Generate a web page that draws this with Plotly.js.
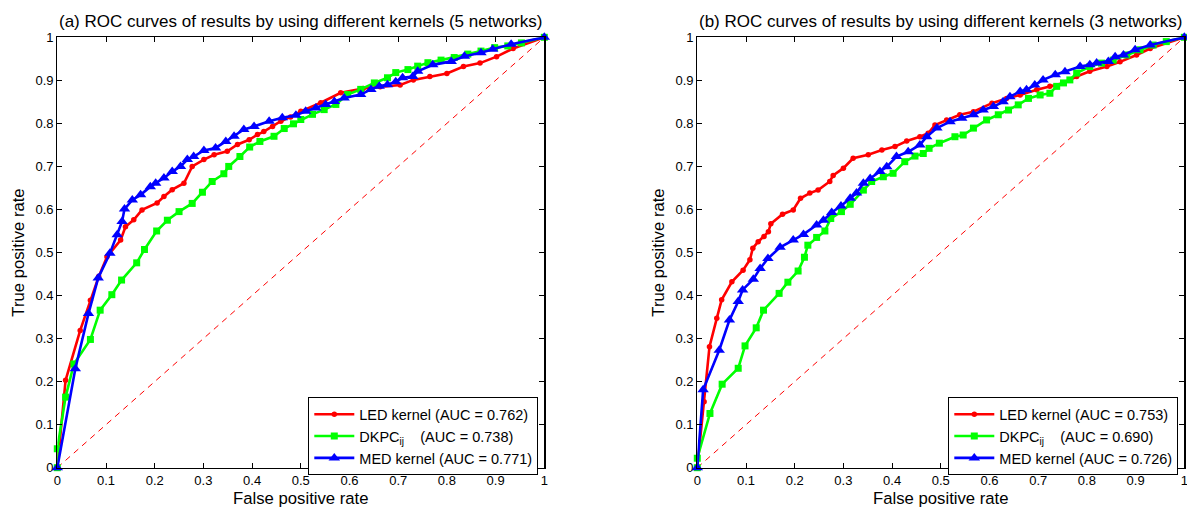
<!DOCTYPE html>
<html>
<head>
<meta charset="utf-8">
<script src="https://cdn.plot.ly/plotly-3.0.1.min.js"></script>
<style>html,body{margin:0;padding:0;background:#fff;}#chart{width:1187px;height:508px;}</style>
</head>
<body>
<div id="chart"></div>
<script>
// ---- Data ----
var titleA = "(a) ROC curves of results by using different kernels (5 networks)";
var titleB = "(b) ROC curves of results by using different kernels (3 networks)";
var seriesNames = ["LED kernel", "DKPC<sub>ij</sub>\u00a0\u00a0\u00a0", "MED kernel"];
var aucA = [0.762, 0.738, 0.771];
var aucB = [0.753, 0.690, 0.726];
var tickVals = [0,0.1,0.2,0.3,0.4,0.5,0.6,0.7,0.8,0.9,1];
var tickText = ["0","0.1","0.2","0.3","0.4","0.5","0.6","0.7","0.8","0.9","1"];
var diagX = [0, 1];
var diagY = [0, 1];

// (a) 5 networks
var ledFprA = [0,0.017,0.047,0.068,0.085,0.102,0.130,0.140,0.157,0.174,0.205,0.219,0.236,0.260,0.277,0.301,0.322,0.349,0.370,0.394,0.411,0.424,0.442,0.459,0.479,0.500,0.541,0.582,0.628,0.663,0.704,0.731,0.765,0.800,0.834,0.868,0.902,0.936,1];
var ledTprA = [0,0.203,0.319,0.389,0.444,0.490,0.529,0.560,0.576,0.599,0.615,0.630,0.646,0.661,0.700,0.716,0.727,0.735,0.751,0.762,0.774,0.781,0.793,0.805,0.815,0.828,0.848,0.871,0.881,0.885,0.889,0.901,0.909,0.916,0.932,0.940,0.955,0.974,1];
var dkpcFprA = [0,0,0.017,0.034,0.068,0.088,0.112,0.132,0.163,0.179,0.204,0.226,0.250,0.277,0.298,0.318,0.342,0.352,0.375,0.395,0.416,0.445,0.466,0.485,0.500,0.524,0.548,0.572,0.596,0.623,0.651,0.678,0.695,0.720,0.740,0.761,0.788,0.815,0.843,0.870,0.898,0.925,0.953,1];
var dkpcTprA = [0,0.044,0.164,0.241,0.298,0.366,0.402,0.436,0.476,0.507,0.550,0.575,0.595,0.614,0.640,0.665,0.683,0.700,0.723,0.745,0.758,0.770,0.788,0.799,0.809,0.821,0.832,0.844,0.867,0.879,0.894,0.906,0.918,0.925,0.933,0.941,0.947,0.953,0.961,0.968,0.976,0.980,0.987,1];
var medFprA = [0,0.037,0.064,0.084,0.108,0.123,0.133,0.138,0.154,0.171,0.191,0.202,0.219,0.236,0.253,0.267,0.280,0.301,0.325,0.346,0.363,0.383,0.404,0.435,0.462,0.490,0.510,0.531,0.551,0.569,0.589,0.623,0.644,0.661,0.678,0.695,0.709,0.730,0.740,0.771,0.809,0.836,0.870,0.894,0.932,1];
var medTprA = [0,0.230,0.358,0.441,0.498,0.541,0.572,0.601,0.622,0.634,0.653,0.661,0.673,0.688,0.700,0.716,0.723,0.737,0.743,0.758,0.770,0.786,0.793,0.805,0.813,0.819,0.828,0.836,0.844,0.851,0.859,0.867,0.879,0.886,0.890,0.897,0.906,0.909,0.921,0.936,0.944,0.956,0.964,0.972,0.984,1];

// (b) 3 networks
var ledFprB = [0,0.014,0.025,0.040,0.050,0.071,0.094,0.108,0.114,0.125,0.137,0.146,0.151,0.175,0.197,0.212,0.231,0.248,0.272,0.279,0.300,0.320,0.351,0.379,0.406,0.430,0.457,0.474,0.488,0.512,0.539,0.567,0.605,0.635,0.663,0.697,0.724,0.752,0.779,0.806,0.841,0.868,0.902,0.930,1];
var ledTprB = [0,0.153,0.281,0.347,0.390,0.432,0.459,0.483,0.510,0.525,0.537,0.548,0.567,0.589,0.599,0.626,0.638,0.645,0.665,0.679,0.696,0.719,0.727,0.738,0.746,0.759,0.769,0.777,0.796,0.808,0.820,0.827,0.847,0.858,0.866,0.878,0.886,0.894,0.909,0.921,0.932,0.943,0.959,0.974,1];
var dkpcFprB = [0,0,0.026,0.051,0.084,0.098,0.121,0.136,0.168,0.186,0.207,0.220,0.227,0.245,0.262,0.274,0.296,0.314,0.341,0.358,0.382,0.402,0.426,0.447,0.464,0.476,0.497,0.529,0.546,0.567,0.594,0.618,0.639,0.659,0.680,0.704,0.724,0.738,0.752,0.765,0.779,0.806,0.830,0.854,0.882,0.909,0.936,0.963,1];
var dkpcTprB = [0,0.022,0.126,0.194,0.231,0.283,0.325,0.366,0.405,0.431,0.457,0.489,0.517,0.535,0.550,0.579,0.595,0.612,0.645,0.665,0.676,0.684,0.711,0.724,0.730,0.742,0.754,0.769,0.773,0.789,0.808,0.820,0.831,0.843,0.858,0.866,0.870,0.886,0.894,0.901,0.917,0.932,0.940,0.947,0.959,0.971,0.982,0.990,1];
var medFprB = [0,0.012,0.045,0.066,0.084,0.093,0.115,0.129,0.145,0.170,0.197,0.218,0.245,0.259,0.276,0.295,0.314,0.327,0.341,0.355,0.375,0.389,0.409,0.433,0.457,0.471,0.492,0.519,0.543,0.567,0.587,0.608,0.628,0.642,0.663,0.676,0.693,0.710,0.735,0.755,0.786,0.806,0.820,0.844,0.858,0.875,0.899,0.930,1];
var medTprB = [0,0.181,0.273,0.343,0.386,0.413,0.438,0.463,0.486,0.512,0.529,0.542,0.564,0.575,0.593,0.608,0.626,0.638,0.661,0.672,0.688,0.699,0.723,0.734,0.750,0.769,0.789,0.804,0.812,0.820,0.831,0.839,0.850,0.862,0.874,0.878,0.889,0.901,0.913,0.920,0.932,0.936,0.940,0.944,0.955,0.959,0.971,0.982,1];

// ---- Styles ----
var colors = ["#ff0000", "#00ff00", "#0000ff"];
var symbols = ["circle", "square", "triangle-up"];
var msizes = [5.5, 7, 10];
var FONT = "Liberation Sans, Arial, Helvetica, sans-serif";

function label(i, auc) {
  return seriesNames[i] + " (AUC = " + auc[i].toFixed(3) + ")";
}
function curve(x, y, i, auc, xa, ya, leg) {
  return {
    x: x, y: y, xaxis: xa, yaxis: ya, type: "scatter", mode: "lines+markers",
    name: label(i, auc), legend: leg, cliponaxis: false,
    line: {color: colors[i], width: 2.6},
    marker: {color: colors[i], symbol: symbols[i], size: msizes[i], line: {width: 0}}
  };
}
function diag(xa, ya) {
  return {x: diagX, y: diagY, xaxis: xa, yaxis: ya, type: "scatter", mode: "lines",
    showlegend: false, hoverinfo: "skip",
    line: {color: "#ff0000", width: 1, dash: "6px,5px"}};
}

var traces = [
  diag("x", "y"),
  curve(ledFprA, ledTprA, 0, aucA, "x", "y", "legend"),
  curve(dkpcFprA, dkpcTprA, 1, aucA, "x", "y", "legend"),
  curve(medFprA, medTprA, 2, aucA, "x", "y", "legend"),
  diag("x2", "y2"),
  curve(ledFprB, ledTprB, 0, aucB, "x2", "y2", "legend2"),
  curve(dkpcFprB, dkpcTprB, 1, aucB, "x2", "y2", "legend2"),
  curve(medFprB, medTprB, 2, aucB, "x2", "y2", "legend2")
];

function axis(domain, titleText, anchor) {
  return {
    domain: domain, anchor: anchor, range: [0, 1], autorange: false,
    tickvals: tickVals, ticktext: tickText, ticks: "inside", ticklen: 5,
    tickcolor: "#000", tickwidth: 1, mirror: "ticks", showline: true,
    linecolor: "#000", linewidth: 1.2, showgrid: false, zeroline: false,
    ticklabeloverflow: "allow",
    tickfont: {family: FONT, size: 13, color: "#000"},
    title: {text: titleText, font: {family: FONT, size: 16.7, color: "#000"}, standoff: 6},
    automargin: false, fixedrange: true
  };
}

var W = 1187, H = 508;
var xdA = [57.3 / W, 544.3 / W];
var xdB = [697.3 / W, 1184.3 / W];
var yd = [1 - 467.7 / H, 1 - 37.3 / H];

var legendBase = {
  xanchor: "left", yanchor: "top", bgcolor: "#fff", bordercolor: "#000", borderwidth: 1,
  font: {family: FONT, size: 14.5, color: "#000"}, itemwidth: 40, tracegroupgap: 0,
  traceorder: "normal"
};

var layout = {
  width: W, height: H, margin: {l: 0, r: 0, t: 0, b: 0},
  paper_bgcolor: "#fff", plot_bgcolor: "#fff", showlegend: true,
  font: {family: FONT, color: "#000"},
  xaxis: axis(xdA, "False positive rate", "y"),
  yaxis: axis(yd, "True positive rate", "x"),
  xaxis2: axis(xdB, "False positive rate", "y2"),
  yaxis2: axis(yd, "True positive rate", "x2"),
  legend: Object.assign({}, legendBase, {x: 308.3 / W, y: 1 - 397.3 / H}),
  legend2: Object.assign({}, legendBase, {x: 948.3 / W, y: 1 - 397.3 / H}),
  annotations: [
    {text: titleA, xref: "paper", yref: "paper", x: (xdA[0] + xdA[1]) / 2, y: 1 - 21 / H,
     xanchor: "center", yanchor: "middle", showarrow: false, font: {family: FONT, size: 17, color: "#000"}},
    {text: titleB, xref: "paper", yref: "paper", x: (xdB[0] + xdB[1]) / 2, y: 1 - 21 / H,
     xanchor: "center", yanchor: "middle", showarrow: false, font: {family: FONT, size: 17, color: "#000"}}
  ]
};

Plotly.newPlot("chart", traces, layout, {displayModeBar: false, staticPlot: true});
</script>
</body>
</html>
